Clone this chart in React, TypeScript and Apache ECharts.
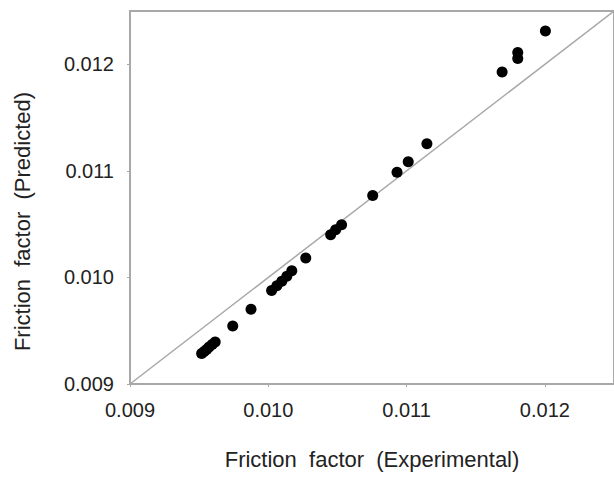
import React, { useEffect, useRef } from "react";
import * as echarts from "echarts";

const experimental: number[] = [
  0.009518, 0.009536, 0.009554, 0.009572, 0.009594, 0.009616, 0.009743, 0.009875,
  0.010024, 0.010062, 0.010098, 0.010134, 0.01017, 0.010271, 0.010451, 0.010487,
  0.01053, 0.010755, 0.010931, 0.011012, 0.011147, 0.011691, 0.011804, 0.011804,
  0.012004,
];
const predicted: number[] = [
  0.009287, 0.009306, 0.009324, 0.009348, 0.009371, 0.009395, 0.009545, 0.009702,
  0.009877, 0.009922, 0.009964, 0.010011, 0.010063, 0.010182, 0.010401, 0.010448,
  0.010495, 0.010768, 0.010987, 0.011085, 0.011254, 0.011928, 0.01211, 0.012054,
  0.012313,
];
const parityLine: number[][] = [
  [0.009, 0.009],
  [0.0125, 0.0125],
];
const axisMin = 0.009;
const axisMax = 0.0125;
const tickStep = 0.001;
const xTitle = "Friction  factor  (Experimental)";
const yTitle = "Friction  factor  (Predicted)";

const FONT = "'Liberation Sans', Arial, sans-serif";
const TEXT = "#222";
const GRAY = "#a8a8a8";

export default function App() {
  const ref = useRef<HTMLDivElement>(null);
  useEffect(() => {
    if (!ref.current) return;
    const chart = echarts.init(ref.current, undefined, { renderer: "svg" });
    const points = experimental.map((x, i) => [x, predicted[i]]);
    const axisCommon = {
      type: "value" as const,
      min: axisMin,
      max: axisMax,
      interval: tickStep,
      splitLine: { show: false },
      axisLine: { show: true, lineStyle: { color: GRAY, width: 2 } },
      axisTick: { show: true, length: 3, lineStyle: { color: GRAY, width: 1 } },
      nameLocation: "middle" as const,
      nameTextStyle: { fontFamily: FONT, fontSize: 22, color: TEXT },
    };
    chart.setOption({
      animation: false,
      backgroundColor: "#ffffff",
      grid: {
        left: 130,
        top: 11,
        width: 486,
        height: 373,
        show: true,
        borderColor: GRAY,
        borderWidth: 2,
        backgroundColor: "transparent",
      },
      xAxis: {
        ...axisCommon,
        name: xTitle,
        nameGap: 64,
        axisLabel: {
          fontFamily: FONT,
          fontSize: 20,
          color: TEXT,
          margin: 16,
          formatter: (v: number) => v.toFixed(3),
          showMaxLabel: false,
        },
      },
      yAxis: {
        ...axisCommon,
        name: yTitle,
        nameGap: 97,
        nameTextStyle: { ...axisCommon.nameTextStyle, padding: [0, 48, 0, 0] },
        axisLabel: {
          fontFamily: FONT,
          fontSize: 20,
          color: TEXT,
          margin: 16,
          formatter: (v: number) => v.toFixed(3),
          showMaxLabel: false,
        },
      },
      series: [
        {
          type: "line",
          data: parityLine,
          symbol: "none",
          lineStyle: { color: GRAY, width: 1.5 },
          silent: true,
          z: 1,
        },
        {
          type: "scatter",
          data: points,
          symbol: "circle",
          symbolSize: 11,
          itemStyle: { color: "#000", opacity: 1 },
          z: 2,
        },
      ],
    });
    return () => chart.dispose();
  }, []);
  return (
    <div
      ref={ref}
      style={{ position: "absolute", left: 0, top: 0, width: 614, height: 479 }}
    />
  );
}
